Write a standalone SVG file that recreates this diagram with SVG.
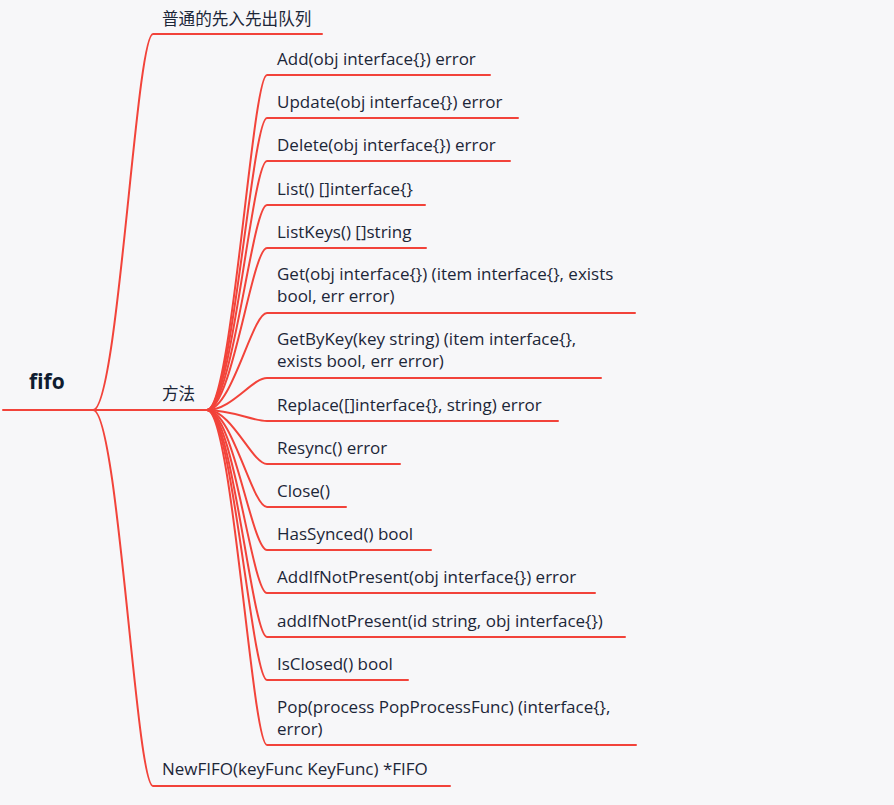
<svg xmlns="http://www.w3.org/2000/svg" width="894" height="805" viewBox="0 0 894 805">
<style>
.ln{fill:none;stroke:#f2433a;stroke-width:2;stroke-linecap:round}
.t{font-family:"Open Sans","Liberation Sans","Noto Sans CJK SC",sans-serif;font-size:17px;fill:#1c2638}
.cjk{font-family:"Noto Sans CJK SC","Open Sans",sans-serif;font-size:16.6px;fill:#1c2638}
.root{font-family:"Open Sans","Liberation Sans",sans-serif;font-size:21px;font-weight:bold;fill:#0f1c30}
</style>
<rect width="894" height="805" fill="#f7f7f9"/>
<g id="connectors">
<path class="ln" d="M3,410 L207,410"/>
<path class="ln" d="M93,410 C118,410 136,34 153,34 L322,34"/>
<path class="ln" d="M93,410 C118,410 136,786 153,786 L450,786"/>
<path class="ln" d="M207,410 C232,410 252,75 267,75 L490,75"/>
<path class="ln" d="M207,410 C232,410 252,118 267,118 L518,118"/>
<path class="ln" d="M207,410 C232,410 252,161 267,161 L510,161"/>
<path class="ln" d="M207,410 C232,410 252,205 267,205 L425,205"/>
<path class="ln" d="M207,410 C232,410 252,248 267,248 L426,248"/>
<path class="ln" d="M207,410 C232,410 252,313 267,313 L635,313"/>
<path class="ln" d="M207,410 C232,410 252,378 267,378 L601,378"/>
<path class="ln" d="M207,410 C232,410 252,421 267,421 L558,421"/>
<path class="ln" d="M207,410 C232,410 252,464 267,464 L400,464"/>
<path class="ln" d="M207,410 C232,410 252,507 267,507 L346,507"/>
<path class="ln" d="M207,410 C232,410 252,550 267,550 L431,550"/>
<path class="ln" d="M207,410 C232,410 252,593 267,593 L595,593"/>
<path class="ln" d="M207,410 C232,410 252,637 267,637 L625,637"/>
<path class="ln" d="M207,410 C232,410 252,680 267,680 L408,680"/>
<path class="ln" d="M207,410 C232,410 252,745 267,745 L636,745"/>
</g>
<g id="root"><text class="root" x="29" y="389">fifo</text></g>
<g id="n-queue"><text class="cjk" x="162" y="25">普通的先入先出队列</text></g>
<g id="n-methods"><text class="cjk" x="162" y="400">方法</text></g>
<g id="n-newfifo"><text class="t" x="162" y="775">NewFIFO(keyFunc KeyFunc) *FIFO</text></g>
<g id="m-add"><text class="t" x="277" y="65">Add(obj interface{}) error</text></g>
<g id="m-update"><text class="t" x="277" y="108">Update(obj interface{}) error</text></g>
<g id="m-delete"><text class="t" x="277" y="151">Delete(obj interface{}) error</text></g>
<g id="m-list"><text class="t" x="277" y="195">List() []interface{}</text></g>
<g id="m-listkeys"><text class="t" x="277" y="238">ListKeys() []string</text></g>
<g id="m-get"><text class="t" x="277" y="280">Get(obj interface{}) (item interface{}, exists</text><text class="t" x="277" y="302">bool, err error)</text></g>
<g id="m-getbykey"><text class="t" x="277" y="345">GetByKey(key string) (item interface{},</text><text class="t" x="277" y="367">exists bool, err error)</text></g>
<g id="m-replace"><text class="t" x="277" y="411">Replace([]interface{}, string) error</text></g>
<g id="m-resync"><text class="t" x="277" y="454">Resync() error</text></g>
<g id="m-close"><text class="t" x="277" y="497">Close()</text></g>
<g id="m-hassynced"><text class="t" x="277" y="540">HasSynced() bool</text></g>
<g id="m-addifnp"><text class="t" x="277" y="583">AddIfNotPresent(obj interface{}) error</text></g>
<g id="m-addifnp2"><text class="t" x="277" y="627">addIfNotPresent(id string, obj interface{})</text></g>
<g id="m-isclosed"><text class="t" x="277" y="670">IsClosed() bool</text></g>
<g id="m-pop"><text class="t" x="277" y="713">Pop(process PopProcessFunc) (interface{},</text><text class="t" x="277" y="735">error)</text></g>
</svg>
